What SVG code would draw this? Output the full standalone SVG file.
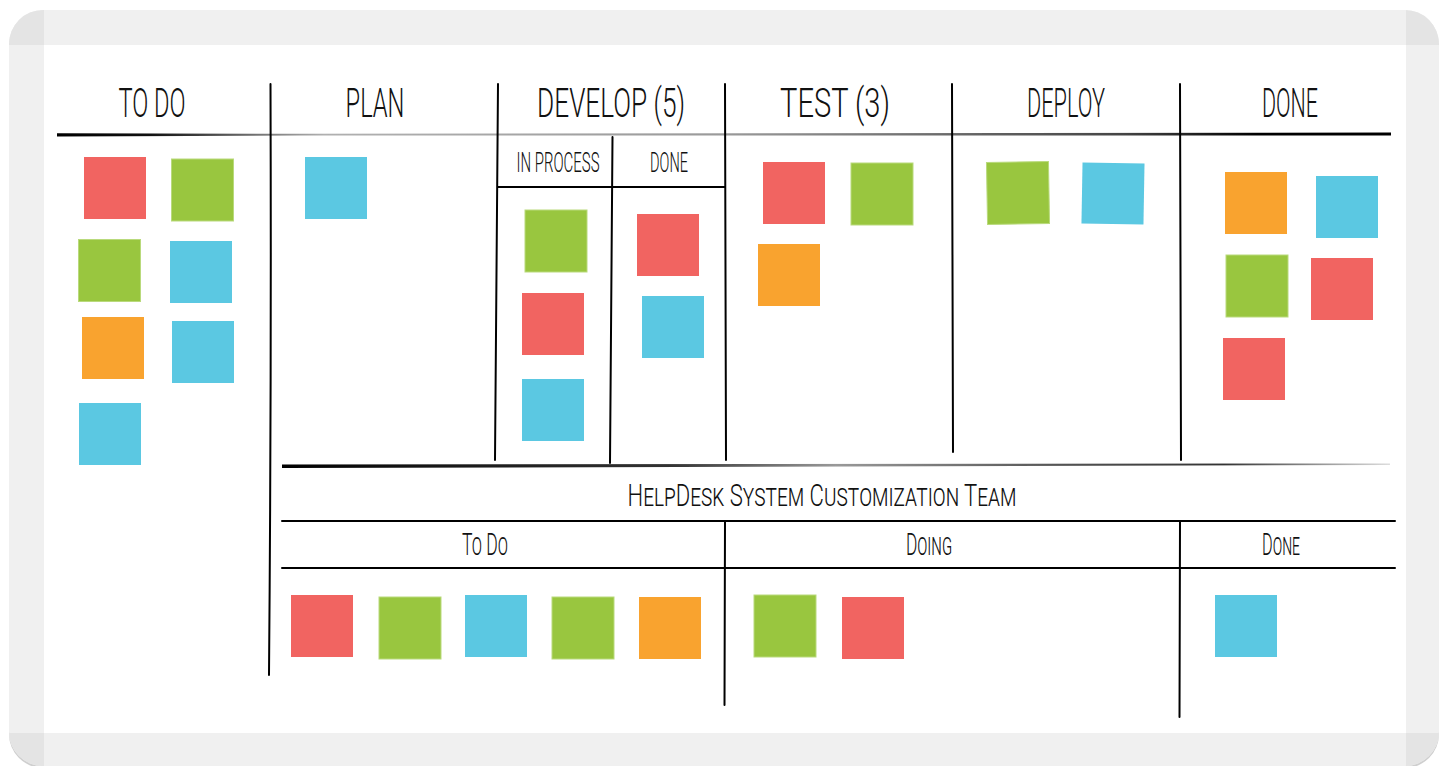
<svg xmlns="http://www.w3.org/2000/svg" width="1439" height="766" viewBox="0 0 1439 766">
<defs>
<style>
.r{fill:#f16461}.g{fill:#99c63f;stroke:#b9da7c;stroke-width:1}.b{fill:#5bc8e2}.o{fill:#f9a32f}
.ln{stroke:#000;stroke-width:2;fill:none;stroke-linecap:round}
text{font-family:Roboto,"Liberation Sans",Arial,sans-serif;font-weight:300;fill:#111;text-anchor:middle}
.h{font-size:40px}
.s{font-size:28px}
.m{font-size:32px;font-variant:small-caps}
</style>
<linearGradient id="gTop" x1="57" y1="0" x2="1391" y2="0" gradientUnits="userSpaceOnUse">
<stop offset="0" stop-color="#000"/><stop offset="0.07" stop-color="#111"/><stop offset="0.2" stop-color="#b0b0b0"/><stop offset="0.5" stop-color="#9a9a9a"/><stop offset="0.8" stop-color="#444"/><stop offset="0.9" stop-color="#000"/><stop offset="1" stop-color="#000"/>
</linearGradient>
<linearGradient id="gMid" x1="282" y1="0" x2="1390" y2="0" gradientUnits="userSpaceOnUse">
<stop offset="0" stop-color="#000"/><stop offset="0.1" stop-color="#111"/><stop offset="0.35" stop-color="#333"/><stop offset="0.5" stop-color="#999"/><stop offset="0.7" stop-color="#555"/><stop offset="0.85" stop-color="#333"/><stop offset="1" stop-color="#ddd"/>
</linearGradient>
<clipPath id="frameClip"><rect x="9" y="10" width="1430" height="756" rx="34"/></clipPath>
</defs>

<g id="frame">
<rect x="9" y="12" width="1430" height="756" rx="34" fill="#cfcfcf"/>
<rect x="9" y="10" width="1430" height="756" rx="34" fill="#f0f0f0"/>
<g clip-path="url(#frameClip)" fill="#e4e4e4">
<rect x="9" y="10" width="35" height="35"/><rect x="1406" y="10" width="33" height="35"/>
<rect x="9" y="733" width="35" height="33"/><rect x="1406" y="733" width="33" height="33"/>
</g>
<rect x="44" y="45" width="1362" height="688" fill="#fff"/>
</g>

<g id="connectors">
<path d="M57,133.2 L300,133.8 L1391,132.6 L1391,135.6 L300,135.6 L57,136.4 Z" fill="url(#gTop)"/>
<path d="M270.5,84 Q271.5,380 269,675" class="ln"/>
<path d="M498,84 L495,460" class="ln"/>
<path d="M725,84 L726,460" class="ln" stroke-width="1.6"/>
<path d="M952,84 L953,452" class="ln" stroke-width="1.6"/>
<path d="M1180,84 L1181,460" class="ln" stroke-width="1.4"/>
<path d="M498,187 L725,187" class="ln"/>
<path d="M612.5,137 L610,463" class="ln"/>
<path d="M282,464.5 L1390,463.5 L1390,465 L282,468 Z" fill="url(#gMid)"/>
<path d="M282,521 L1395,521" class="ln" stroke-width="2.5" stroke-linecap="butt"/>
<path d="M282,568 L1395,568" class="ln" stroke-width="2.5" stroke-linecap="butt"/>
<path d="M725,521 L724.5,705" class="ln"/>
<path d="M1180,521 L1179.5,717" class="ln"/>
</g>

<g id="headers">
<text class="h" transform="translate(152,117) scale(0.55,1)" textLength="122" lengthAdjust="spacingAndGlyphs">TO DO</text>
<text class="h" transform="translate(375,117) scale(0.55,1)" textLength="107" lengthAdjust="spacingAndGlyphs">PLAN</text>
<text class="h" transform="translate(611,117) scale(0.55,1)" textLength="269" lengthAdjust="spacingAndGlyphs">DEVELOP (5)</text>
<text class="h" transform="translate(835,117) scale(0.55,1)" textLength="200" lengthAdjust="spacingAndGlyphs">TEST (3)</text>
<text class="h" transform="translate(1066,117) scale(0.55,1)" textLength="142" lengthAdjust="spacingAndGlyphs">DEPLOY</text>
<text class="h" transform="translate(1290,117) scale(0.55,1)" textLength="102" lengthAdjust="spacingAndGlyphs">DONE</text>
<text class="s" transform="translate(558,172) scale(0.55,1)" textLength="151" lengthAdjust="spacingAndGlyphs">IN PROCESS</text>
<text class="s" transform="translate(669,172) scale(0.55,1)" textLength="69" lengthAdjust="spacingAndGlyphs">DONE</text>
<text class="m" transform="translate(822,506) scale(0.55,1)" font-size="37" textLength="707" lengthAdjust="spacingAndGlyphs">HelpDesk System Customization Team</text>
<text class="m" transform="translate(485,555) scale(0.55,1)" textLength="84" lengthAdjust="spacingAndGlyphs">To Do</text>
<text class="m" transform="translate(929,555) scale(0.55,1)" textLength="84" lengthAdjust="spacingAndGlyphs">Doing</text>
<text class="m" transform="translate(1281,555) scale(0.55,1)" textLength="69" lengthAdjust="spacingAndGlyphs">Done</text>
</g>

<g id="todo-cards">
<rect class="r" x="84" y="157" width="62" height="62"/>
<rect class="g" x="171.5" y="159" width="62" height="62"/>
<rect class="g" x="78.5" y="239.5" width="62" height="62"/>
<rect class="b" x="170" y="241" width="62" height="62"/>
<rect class="o" x="82" y="317" width="62" height="62"/>
<rect class="b" x="172" y="321" width="62" height="62"/>
<rect class="b" x="79" y="403" width="62" height="62"/>
</g>
<g id="plan-cards">
<rect class="b" x="305" y="157" width="62" height="62"/>
</g>
<g id="develop-cards">
<rect class="g" x="525" y="210" width="62" height="62"/>
<rect class="r" x="522" y="293" width="62" height="62"/>
<rect class="b" x="522" y="379" width="62" height="62"/>
<rect class="r" x="637" y="214" width="62" height="62"/>
<rect class="b" x="642" y="296" width="62" height="62"/>
</g>
<g id="test-cards">
<rect class="r" x="763" y="162" width="62" height="62"/>
<rect class="g" x="851" y="163" width="62" height="62"/>
<rect class="o" x="758" y="244" width="62" height="62"/>
</g>
<g id="deploy-cards">
<rect class="g" x="987" y="162" width="62" height="62" transform="rotate(-1 1018 193)"/>
<rect class="b" x="1082" y="163" width="62" height="61" transform="rotate(1 1113 193)"/>
</g>
<g id="done-cards">
<rect class="o" x="1225" y="172" width="62" height="62"/>
<rect class="b" x="1316" y="176" width="62" height="62"/>
<rect class="g" x="1226" y="255" width="62" height="62"/>
<rect class="r" x="1311" y="258" width="62" height="62"/>
<rect class="r" x="1223" y="338" width="62" height="62"/>
</g>
<g id="team-todo-cards">
<rect class="r" x="291" y="595" width="62" height="62"/>
<rect class="g" x="379" y="597" width="62" height="62"/>
<rect class="b" x="465" y="595" width="62" height="62"/>
<rect class="g" x="552" y="597" width="62" height="62"/>
<rect class="o" x="639" y="597" width="62" height="62"/>
</g>
<g id="team-doing-cards">
<rect class="g" x="754" y="595" width="62" height="62"/>
<rect class="r" x="842" y="597" width="62" height="62"/>
</g>
<g id="team-done-cards">
<rect class="b" x="1215" y="595" width="62" height="62"/>
</g>
</svg>
